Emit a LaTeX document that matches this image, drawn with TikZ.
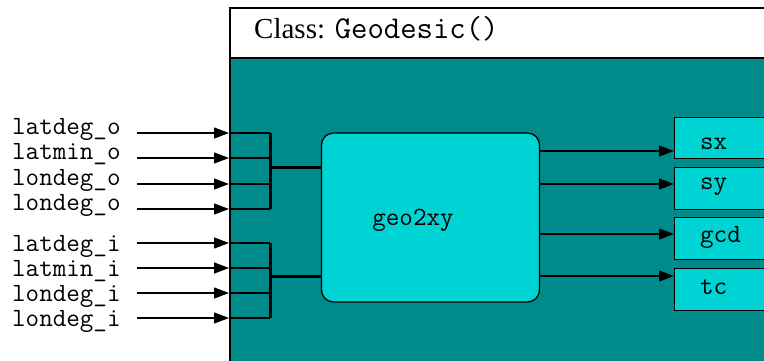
\documentclass[tikz,border=0pt]{standalone}
\usepackage{fontspec}
\setmainfont{Liberation Serif}
\usetikzlibrary{arrows.meta}
\definecolor{tealbg}{HTML}{008B8B}
\definecolor{cyanbox}{HTML}{00D3D3}
\begin{document}
\begin{tikzpicture}[x=1pt,y=-1pt,
  mono/.style={font=\fontsize{26.3}{30}\selectfont\ttfamily, inner sep=0pt},
  lbl/.style={mono, anchor=base west},
  arr/.style={-{Triangle[length=15pt,width=11pt]}, line width=1.3pt},
  tick/.style={line width=1.8pt},
  bar/.style={line width=3pt},
  fnbox/.style={draw, fill=cyanbox, line width=1.3pt, rounded corners=12pt},
  outbox/.style={draw, fill=cyanbox, line width=1.3pt, anchor=north west, minimum width=120pt},
  frame/.style={draw, line width=1.5pt, anchor=north west, minimum width=560pt}]
\clip (0,0) rectangle (764,360);
\fill[white] (0,0) rectangle (764,360);
% class frame
\node[frame, fill=white, minimum height=50pt] (hdr) at (229,7) {};
\node[frame, fill=tealbg, minimum height=330pt] (body) at (229,57) {};
\node[anchor=base west, inner sep=0pt] (title) at (254,38)
  {\fontsize{29}{33}\selectfont Class: {\fontsize{31.8}{35}\selectfont\ttfamily Geodesic()}};
% function box
\node[fnbox, minimum width=218pt, minimum height=169pt] (geo) at (430.5,217.5) {};
\node[mono] (geotxt) at (413,220) {geo2xy};
% output boxes
\node[outbox, minimum height=41pt] (sx) at (674,117) {};
\node[outbox, minimum height=42pt] (sy) at (674,167) {};
\node[outbox, minimum height=42pt] (gcd) at (674,217) {};
\node[outbox, minimum height=42pt] (tc) at (674,268) {};
\node[mono, anchor=west] (sxt) at (700,144) {sx};
\node[mono, anchor=west] (syt) at (700,187) {sy};
\node[mono, anchor=west] (gcdt) at (700,237) {gcd};
\node[mono, anchor=west] (tct) at (700,287) {tc};
\coordinate (o1) at (0,151);
\coordinate (o2) at (0,184);
\coordinate (o3) at (0,234);
\coordinate (o4) at (0,276);
\draw[arr] (geo.east |- o1) -- (sx.west |- o1);
\draw[arr] (geo.east |- o2) -- (sy.west |- o2);
\draw[arr] (geo.east |- o3) -- (gcd.west |- o3);
\draw[arr] (geo.east |- o4) -- (tc.west |- o4);
% inputs
\coordinate (bx) at (270,0);
\foreach \n/\t/\y/\b in {1/latdeg\_o/133/134, 2/latmin\_o/158/159, 3/londeg\_o/184/185, 4/londeg\_o/209/210,
                        5/latdeg\_i/243/251, 6/latmin\_i/268/276, 7/londeg\_i/293/301, 8/londeg\_i/318/326}{
  \node[lbl] (in\n) at (12,\b) {\t};
  \coordinate (s\n) at (137,\y);
  \draw[arr] (s\n) -- (s\n -| body.west);
  \draw[tick] (s\n -| body.west) -- (s\n -| bx);
}
\draw[bar] (s1 -| bx) -- (s4 -| bx);
\draw[bar] (s5 -| bx) -- (s8 -| bx);
\coordinate (j1) at (270,167);
\coordinate (j2) at (270,276);
\draw[bar] (j1) -- (j1 -| geo.west);
\draw[bar] (j2) -- (j2 -| geo.west);
\end{tikzpicture}
\end{document}
